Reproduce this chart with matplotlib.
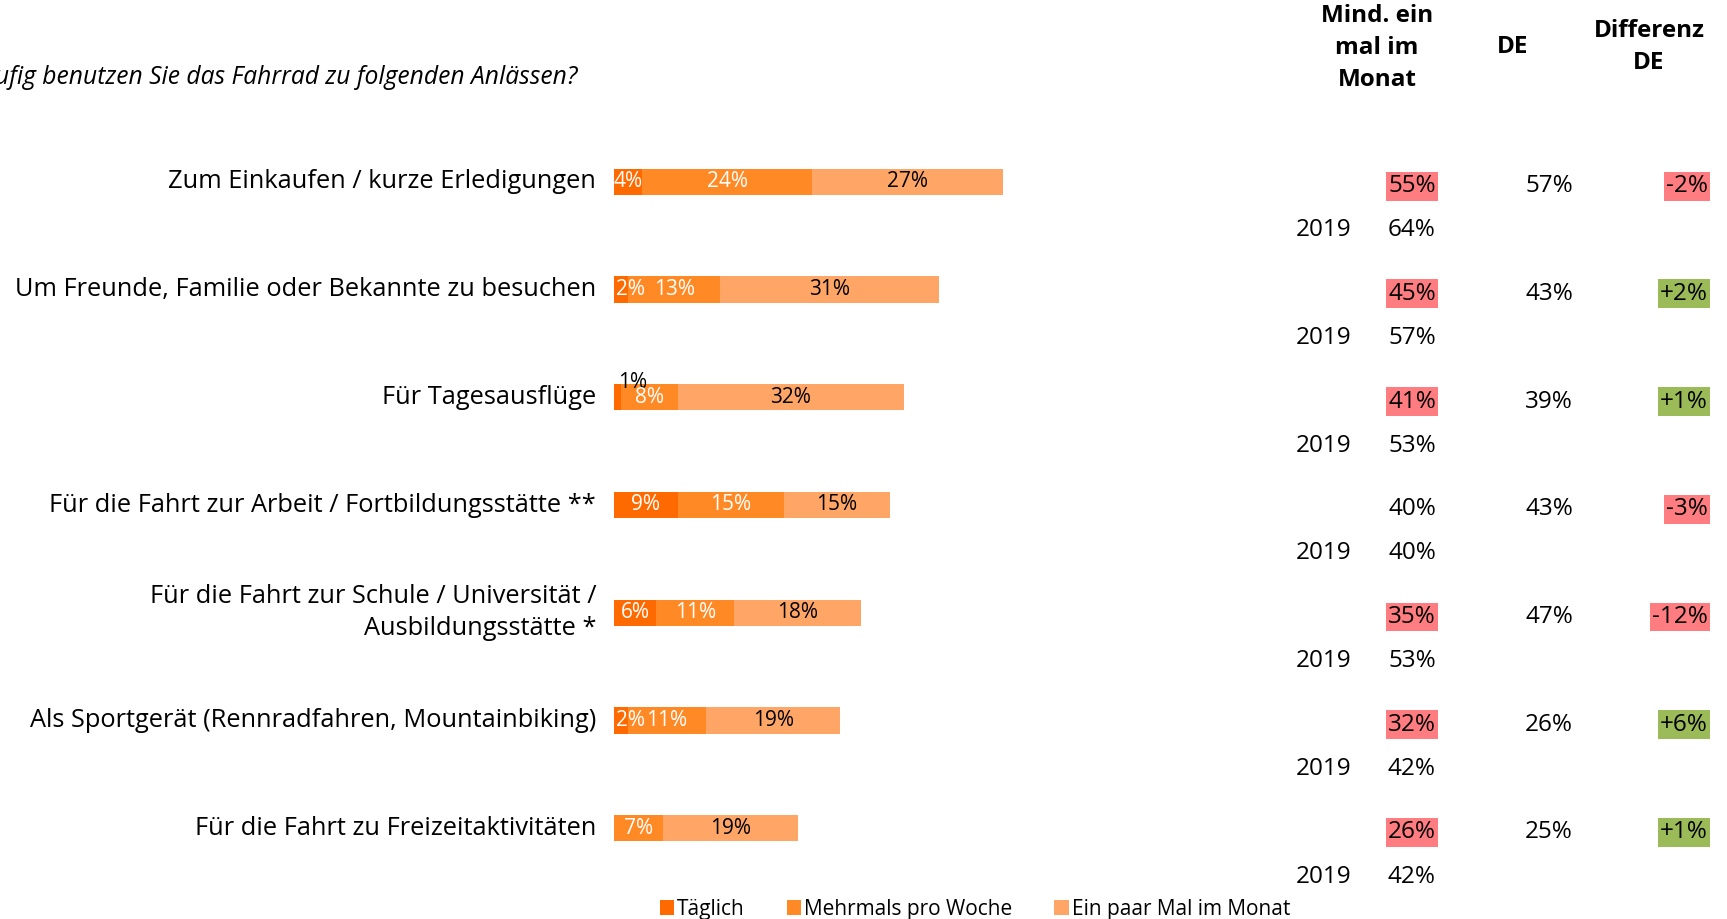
import matplotlib
matplotlib.use("Agg")
import matplotlib.pyplot as plt
from matplotlib.transforms import blended_transform_factory

plt.rcParams['font.family'] = ['Open Sans', 'DejaVu Sans']

categories = [
    "Zum Einkaufen / kurze Erledigungen",
    "Um Freunde, Familie oder Bekannte zu besuchen",
    "Für Tagesausflüge",
    "Für die Fahrt zur Arbeit / Fortbildungsstätte **",
    "Für die Fahrt zur Schule / Universität /\nAusbildungsstätte *",
    "Als Sportgerät (Rennradfahren, Mountainbiking)",
    "Für die Fahrt zu Freizeitaktivitäten",
]
taeglich = [4, 2, 1, 9, 6, 2, 0]
mehrmals = [24, 13, 8, 15, 11, 11, 7]
paar_mal = [27, 31, 32, 15, 18, 19, 19]
mind_monat = [55, 45, 41, 40, 35, 32, 26]
werte_2019 = [64, 57, 53, 40, 53, 42, 42]
werte_de = [57, 43, 39, 43, 47, 26, 25]
differenz = [-2, 2, 1, -3, -12, 6, 1]
series_names = ["Täglich", "Mehrmals pro Woche", "Ein paar Mal im Monat"]
colors = ["#FF6A00", "#FF8A25", "#FFA566"]

W, H = 1727, 919
fig = plt.figure(figsize=(W / 100, H / 100), dpi=100)
# bar area: x from 614px, 7.07 px per percent; rows 182..828 px
left, right = 614, 614 + 100 * 7.07
top, bottom = 128, 882
ax = fig.add_axes([left / W, 1 - bottom / H, (right - left) / W, (bottom - top) / H])
ax.set_xlim(0, 100)
ax.set_ylim(6.5, -0.5)
ax.axis("off")

y = list(range(len(categories)))
bh = 0.245
starts = [0] * len(y)
for vals, col, name in zip([taeglich, mehrmals, paar_mal], colors, series_names):
    ax.barh(y, vals, left=starts, height=bh, color=col, label=name)
    for i, v in enumerate(vals):
        if v == 0:
            continue
        cx = starts[i] + v / 2
        tc = "black" if col == colors[2] else "white"
        if col == colors[0] and v == 1:
            ax.text(starts[i] + 2.7, i - 0.14, f"{v}%", ha="center", va="center",
                    fontsize=15, color="black", zorder=5)
        else:
            ax.text(cx + (1.3 if v <= 2 else 0), i, f"{v}%", ha="center", va="center",
                    fontsize=15, color=tc, zorder=5)
    starts = [s + v for s, v in zip(starts, vals)]

tr = blended_transform_factory(fig.transFigure, ax.transData)
for i, cat in enumerate(categories):
    ax.text(596 / W, i, cat, transform=tr, ha="right", va="center", fontsize=18.3,
            linespacing=1.35)

red, green = "#FF7C80", "#9BBB59"
for i in range(len(categories)):
    box = None if mind_monat[i] == werte_2019[i] else dict(boxstyle="square,pad=0.1", fc=red, ec="none")
    ax.text(1412 / W, i + 0.04, f"{mind_monat[i]}%", transform=tr, ha="center", va="center",
            fontsize=17.5, bbox=box)
    ax.text(1549 / W, i + 0.04, f"{werte_de[i]}%", transform=tr, ha="center", va="center",
            fontsize=17.5)
    d = differenz[i]
    ax.text(1708 / W, i + 0.04, f"{d:+d}%", transform=tr, ha="right", va="center",
            fontsize=17.5, bbox=dict(boxstyle="square,pad=0.1", fc=green if d > 0 else red, ec="none"))
    ax.text(1324 / W, i + 0.45, "2019", transform=tr, ha="center", va="center", fontsize=17.5)
    ax.text(1412 / W, i + 0.45, f"{werte_2019[i]}%", transform=tr, ha="center", va="center",
            fontsize=17.5)

fig.text(1377 / W, 1 - 48 / H, "Mind. ein\nmal im\nMonat", ha="center", va="center",
         fontsize=17.5, fontweight="bold", linespacing=1.45)
fig.text(1513 / W, 1 - 47 / H, "DE", ha="center", va="center", fontsize=17.5, fontweight="bold")
fig.text(1649 / W, 1 - 47 / H, "Differenz\nDE", ha="center", va="center", fontsize=17.5,
         fontweight="bold", linespacing=1.45)

fig.text(577 / W, 1 - 77 / H, "Wie häufig benutzen Sie das Fahrrad zu folgenden Anlässen?",
         ha="right", va="center", fontsize=17.7, style="italic")

ax.legend(loc="center", bbox_to_anchor=(975 / W, 1 - 909 / H), bbox_transform=fig.transFigure,
          ncol=3, frameon=False, fontsize=15, handlelength=0.7, handleheight=0.7,
          handletextpad=0.15, columnspacing=2.0)

fig.savefig("out.png", dpi=100)
